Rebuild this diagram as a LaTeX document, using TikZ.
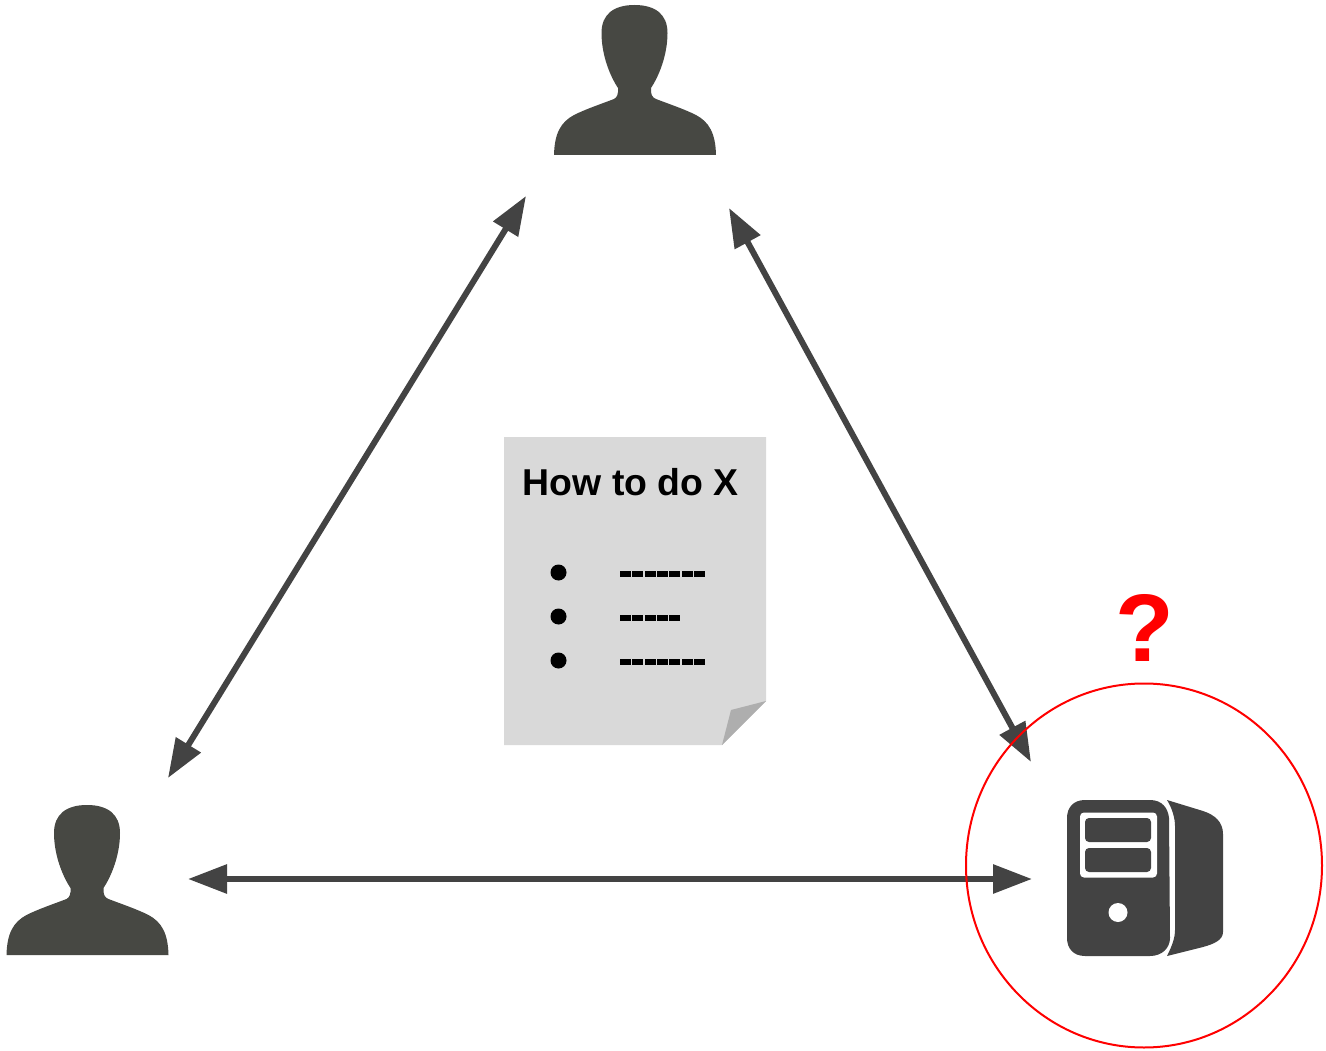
\documentclass[tikz,border=0pt]{standalone}
\usepackage{fontspec}
\setmainfont{Liberation Sans}
\usetikzlibrary{arrows.meta}
\definecolor{persongrey}{HTML}{474843}
\definecolor{hostgrey}{HTML}{434343}
\definecolor{papergrey}{HTML}{D9D9D9}
\definecolor{foldgrey}{HTML}{AEAEAE}
\definecolor{qred}{HTML}{FF0000}
\tikzset{
  x=1pt,y=-1pt,
  link/.style={draw=hostgrey,line width=6pt,{Triangle[length=39pt,width=28pt]}-{Triangle[length=39pt,width=28pt]}},
  doctext/.style={anchor=base west,inner sep=0pt,font=\fontsize{37.4}{37.4}\selectfont\bfseries},
  person/.pic={
    \fill[persongrey] (0,150)
      .. controls (0.5,128) and (7,117) .. (20,110)
      .. controls (32,104) and (47,99) .. (60,94)
      .. controls (63,92.5) and (64.5,89) .. (64,83)
      .. controls (56,71) and (47.5,50) .. (47.5,28)
      .. controls (47.5,9) and (60,0) .. (80.5,0)
      .. controls (101,0) and (113.5,9) .. (113.5,28)
      .. controls (113.5,50) and (105,71) .. (97,83)
      .. controls (96.5,89) and (98,92.5) .. (102,94)
      .. controls (115,99) and (130,104) .. (142,110)
      .. controls (155,117) and (161.5,128) .. (162,150) -- cycle;
  }
}
\begin{document}
\begin{tikzpicture}
\useasboundingbox (0,0) rectangle (1326,1051);
% people
\pic at (554,5) {person};
\pic at (6.5,805) {person};
% free ends of the connectors
\coordinate (topL) at (526,196);
\coordinate (topR) at (729,208);
\coordinate (leftT) at (168,778);
\coordinate (leftR) at (188,879);
\coordinate (hostT) at (1031,762);
\coordinate (hostL) at (1032,879);
\coordinate (ringc) at (1144,865.5);
% paper
\fill[papergrey] (504,437) -- (766,437) -- (766,701) -- (722,745) -- (504,745) -- cycle;
\fill[foldgrey] (766,701) -- (731,710) -- (722,745) -- cycle;
\node[doctext] (title) at (522.5,495) {How to do X};
\fill (558.5,572.5) circle (8);
\fill (558.5,616.5) circle (8);
\fill (558.5,660.5) circle (8);
\foreach \y/\n in {572/7,616/5,660/7}{
  \foreach \i in {1,...,\n}{
    \fill (620+12.33*\i-12.33,\y-1) rectangle ++(11,5.5);
  }
}
% computer
\fill[hostgrey] (1085,800) -- (1150,800)
  .. controls (1162,800) and (1168,808) .. (1169,818) -- (1170,938)
  .. controls (1170,948) and (1162,956) .. (1150,956) -- (1085,956)
  .. controls (1073,956) and (1067,948) .. (1067,938) -- (1067,818)
  .. controls (1067,808) and (1073,800) .. (1085,800) -- cycle;
\fill[hostgrey] (1167,800) -- (1203,811)
  .. controls (1215,815) and (1223,822) .. (1223,834) -- (1223,932)
  .. controls (1223,940) and (1214,944) .. (1203,947) -- (1167,956)
  .. controls (1172,946) and (1175,938) .. (1175,930) -- (1175,826)
  .. controls (1175,818) and (1172,808) .. (1167,800) -- cycle;
\fill[white,rounded corners=4pt] (1080,812.5) rectangle (1157,877.5);
\fill[hostgrey,rounded corners=4pt] (1085,818) rectangle (1151,842);
\fill[hostgrey,rounded corners=4pt] (1085,848) rectangle (1151,872);
\fill[white] (1118,912.5) circle (9.5);
% connectors
\draw[link] (leftT) -- (topL);
\draw[link] (topR) -- (hostT);
\draw[link] (leftR) -- (hostL);
% circle and mark
\draw[qred,line width=2pt] (ringc) ellipse [x radius=178,y radius=182];
\node[inner sep=0pt,text=qred,font=\fontsize{96}{96}\selectfont\bfseries,anchor=base] (mark) at (1145,661) {?};
\end{tikzpicture}
\end{document}
